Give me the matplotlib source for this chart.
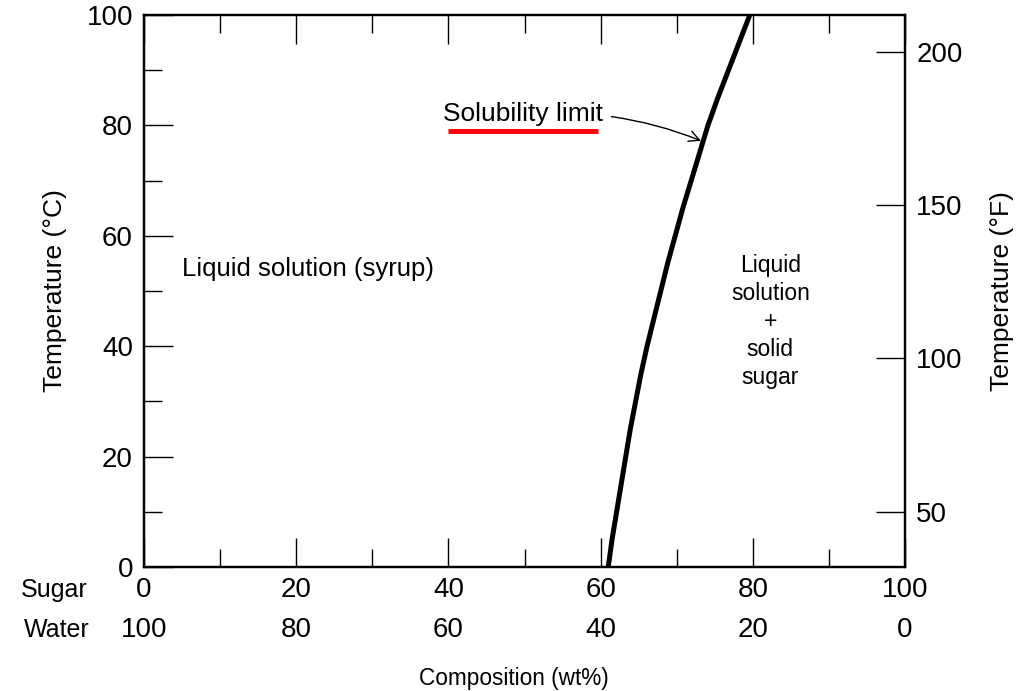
import numpy as np
import matplotlib.pyplot as plt
import matplotlib.transforms as mtransforms

plt.rcParams['font.family'] = ['Liberation Sans', 'DejaVu Sans']

# Datos
temp_c = [0, 5, 10, 15, 20, 25, 30, 35, 40, 45, 50,
          55, 60, 65, 70, 75, 80, 85, 90, 95, 100]
sugar_wt = [61.0, 61.5, 62.1, 62.7, 63.3, 63.9, 64.6, 65.3, 66.1, 67.0, 67.9,
            68.8, 69.8, 70.8, 71.9, 73.0, 74.1, 75.4, 76.8, 78.2, 79.6]

sugar_ticks = [0, 20, 40, 60, 80, 100]
water_ticks = [100, 80, 60, 40, 20, 0]
temp_c_ticks = [0, 20, 40, 60, 80, 100]
temp_f_ticks = [50, 100, 150, 200]


def c_to_f(c):
    return np.asarray(c) * 9 / 5 + 32


fig = plt.figure(figsize=(10.26, 6.91), dpi=100)
ax = fig.add_axes([0.1404, 0.1795, 0.7417, 0.7988])

# Curva de solubilidad
ax.plot(sugar_wt, temp_c, color='black', lw=3.6, solid_capstyle='butt',
        solid_joinstyle='round')

ax.set_xlim(0, 100)
ax.set_ylim(0, 100)
for s in ax.spines.values():
    s.set_linewidth(1.6)

ax.set_xticks(sugar_ticks)
ax.set_xticks(range(10, 100, 20), minor=True)
ax.set_yticks(temp_c_ticks)
ax.set_yticks(range(10, 100, 20), minor=True)
ax.tick_params(which='both', direction='in', top=True, right=False,
               width=1.0, labelsize=20, color='black')
ax.tick_params(which='major', length=21)
ax.tick_params(which='minor', length=13)
ax.tick_params(axis='x', pad=7)
ax.tick_params(axis='y', pad=8)
ax.set_ylabel('Temperature (°C)', fontsize=19, labelpad=14)

# Segunda fila de etiquetas (agua)
trans = mtransforms.blended_transform_factory(ax.transData, fig.transFigure)
for s, w in zip(sugar_ticks, water_ticks):
    ax.text(s, 1 - 630 / 691, str(w), transform=trans, ha='center', va='center', fontsize=20)
fig.text(88 / 1026, 1 - 590 / 691, 'Sugar', ha='right', va='center', fontsize=18)
fig.text(90 / 1026, 1 - 630 / 691, 'Water', ha='right', va='center', fontsize=18)
fig.text(514 / 1026, 1 - 678 / 691, 'Composition (wt%)', ha='center', va='center', fontsize=16.3)

# Eje derecho en °F
ax2 = ax.twinx()
ax2.set_ylim(c_to_f(0), c_to_f(100))
ax2.set_yticks(temp_f_ticks)
ax2.tick_params(direction='in', length=21, width=1.0, labelsize=20, pad=8)
ax2.set_ylabel('Temperature (°F)', fontsize=19, labelpad=20)
for s in ax2.spines.values():
    s.set_linewidth(1.6)

# Textos de regiones
ax.text(5.0, 54, 'Liquid solution (syrup)', ha='left', va='center', fontsize=18.5)
ax.text(82.3, 44.5, 'Liquid\nsolution\n+\nsolid\nsugar', ha='center', va='center',
        fontsize=16.5, linespacing=1.27)

ax.annotate('Solubility limit', xy=(73.2, 77.2), xytext=(49.8, 82.0),
            ha='center', va='center', fontsize=19,
            arrowprops=dict(arrowstyle='->', color='black', lw=1.0,
                            connectionstyle='arc3,rad=-0.12',
                            shrinkA=4, shrinkB=0))
ax.plot([40.0, 59.7], [78.9, 78.9], color='red', lw=3.5, solid_capstyle='butt')

fig.savefig('out.png', dpi=100)
